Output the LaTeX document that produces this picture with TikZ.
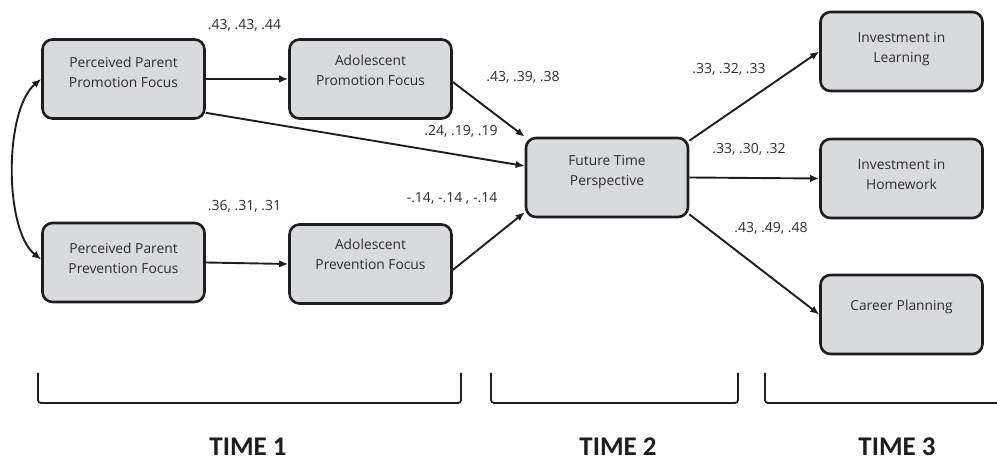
\documentclass[tikz,border=0pt]{standalone}
\usepackage{fontspec}
\setmainfont{Open Sans}
\newfontfamily\timefont{Carlito}
\usetikzlibrary{arrows.meta}
\definecolor{boxfill}{RGB}{217,218,220}
\definecolor{ink}{RGB}{30,30,30}
\definecolor{txt}{RGB}{45,45,45}
\tikzset{
  box/.style={draw=ink, line width=2.6pt, fill=boxfill, rounded corners=10pt,
    minimum width=162pt, minimum height=79pt, inner sep=0pt},
  boxtext/.style={align=center, text=txt, font=\fontsize{13.8}{20}\selectfont, inner sep=0pt},
  coef/.style={text=txt, font=\fontsize{14}{16}\selectfont, inner sep=0pt},
  path arrow/.style={draw=ink, line width=1.9pt, -{Latex[length=9pt,width=7.5pt]}},
  both arrow/.style={draw=ink, line width=1.9pt, {Latex[length=9pt,width=7.5pt]}-{Latex[length=9pt,width=7.5pt]}},
  bracketline/.style={draw=ink, line width=1.8pt, rounded corners=3pt},
  timelabel/.style={text=ink, font=\timefont\bfseries\fontsize{27}{30}\selectfont, inner sep=0pt}
}
\begin{document}
\begin{tikzpicture}[x=1pt,y=-1pt]
\useasboundingbox (0,0) rectangle (997,462);
% boxes
\node[box] (ppp) at (123.5,79) {};
\node[box] (adp) at (370.5,79) {};
\node[box] (ppv) at (123.5,262.5) {};
\node[box] (adv) at (370.5,264) {};
\node[box] (ftp) at (607,177.5) {};
\node[box] (il) at (901.5,51.5) {};
\node[box] (ih) at (901.5,178.5) {};
\node[box] (cp) at (901.5,314.5) {};
% box texts
\node[boxtext] (ppp-t) at (123.5,72) {Perceived Parent\\Promotion Focus};
\node[boxtext] (adp-t) at (370.5,70) {Adolescent\\Promotion Focus};
\node[boxtext] (ppv-t) at (123.5,258) {Perceived Parent\\Prevention Focus};
\node[boxtext] (adv-t) at (370.5,254) {Adolescent\\Prevention Focus};
\node[boxtext] (ftp-t) at (607,172) {Future Time\\Perspective};
\node[boxtext] (il-t) at (901.5,49.5) {Investment in\\Learning};
\node[boxtext] (ih-t) at (901.5,174.5) {Investment in\\Homework};
\node[boxtext] (cp-t) at (901.5,307) {Career Planning};
% connectors
\draw[path arrow] (ppp.east) -- (adp.west);
\draw[path arrow] (ppv.east) -- (adv.west);
\draw[path arrow] ([yshift=-3pt]adp.east) -- (ftp.north west);
\draw[path arrow] ([yshift=7pt]ppp.south east) -- ([yshift=11.5pt]ftp.west);
\draw[path arrow] ([yshift=-6pt]adv.east) -- ([yshift=6pt]ftp.south west);
\draw[path arrow] ([yshift=-4pt]ftp.north east) -- (il.west);
\draw[path arrow] (ftp.east) -- (ih.west);
\draw[path arrow] ([yshift=4pt]ftp.south east) -- (cp.west);
\draw[both arrow] (ppp.west) .. controls (4,110) and (4,230) .. ([yshift=3pt]ppv.west);
% coefficients
\node[coef] (c1) at (244.5,25) {.43, .43, .44};
\node[coef] (c2) at (244.5,206) {.36, .31, .31};
\node[coef] (c3) at (523,77) {.43, .39, .38};
\node[coef] (c4) at (461,131) {.24, .19, .19};
\node[coef] (c5) at (452,198) {-.14, -.14 , -.14};
\node[coef] (c6) at (729,69) {.33, .32, .33};
\node[coef] (c7) at (749,149) {.33, .30, .32};
\node[coef] (c8) at (771,228) {.43, .49, .48};
% brackets
\draw[bracketline] (38,373) -- (38,403) -- (461,403) -- (461,373);
\draw[bracketline] (491,373) -- (491,403) -- (738,403) -- (738,373);
\draw[bracketline] (765,373) -- (765,403) -- (1000,403);
% time labels
\node[timelabel] (t1) at (248,447) {TIME 1};
\node[timelabel] (t2) at (618,447) {TIME 2};
\node[timelabel] (t3) at (897,447) {TIME 3};
\end{tikzpicture}
\end{document}
